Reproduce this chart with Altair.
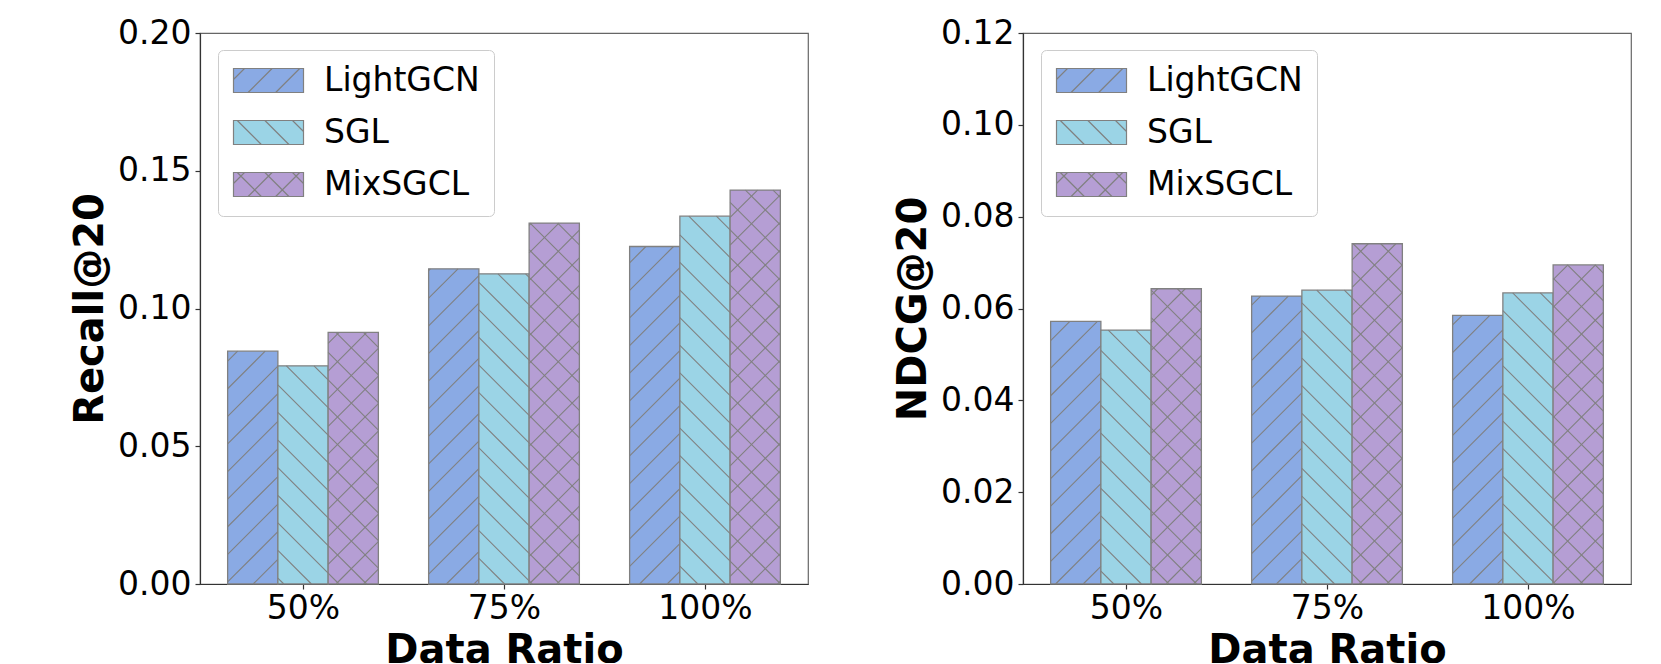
import math
import altair as alt
import pandas as pd

# ---------------- data ----------------
categories = ["50%", "75%", "100%"]
models = ["LightGCN", "SGL", "MixSGCL"]

recall_lightgcn = [0.0845, 0.1144, 0.1225]
recall_sgl = [0.0792, 0.1126, 0.1335]
recall_mixsgcl = [0.0913, 0.1310, 0.1430]

ndcg_lightgcn = [0.0572, 0.0627, 0.0585]
ndcg_sgl = [0.0553, 0.0640, 0.0634]
ndcg_mixsgcl = [0.0643, 0.0741, 0.0695]

recall_ticks = [0.00, 0.05, 0.10, 0.15, 0.20]
ndcg_ticks = [0.00, 0.02, 0.04, 0.06, 0.08, 0.10, 0.12]

# ---------------- style ----------------
colors = ["#8AAAE4", "#9BD4E6", "#B59ED4"]
hatches = ["/", "\\", "x"]
EDGE = "#808080"
FONT = "DejaVu Sans"

PLOT_W, PLOT_H = 608, 551
BAR_W = 0.25
X_MIN, X_MAX = -0.5125, 2.5125
KX = PLOT_W / (X_MAX - X_MIN)
HATCH_S = 27.6
PHASE_FWD, PHASE_BACK = 21.0, 4.0
BASE_Y = 80.0
PANEL_X = [199.0, 1020.0]


def clip_lines(xa, xb, ya, yb, kind, spacing, phase):
    segs = []
    if kind == "/":
        lo, hi = ya - xb, yb - xa
        k = math.floor((lo - phase) / spacing)
        while True:
            c = phase + k * spacing
            if c > hi:
                break
            x1, x2 = max(xa, ya - c), min(xb, yb - c)
            if x2 - x1 > 0.02 * spacing:
                segs.append((x1, x1 + c, x2, x2 + c))
            k += 1
    else:
        lo, hi = ya + xa, yb + xb
        k = math.floor((lo - phase) / spacing)
        while True:
            c = phase + k * spacing
            if c > hi:
                break
            x1, x2 = max(xa, c - yb), min(xb, c - ya)
            if x2 - x1 > 0.02 * spacing:
                segs.append((x1, c - x1, x2, c - x2))
            k += 1
    return segs


def kinds_of(h):
    return ["/", "\\"] if h == "x" else [h]


# legend symbol paths: a 70x24 px hatched handle; the unit is half the handle height
SYM_W, SYM_H = 70.0, 24.0
hw = SYM_W / SYM_H
sym_paths = []
for h in hatches:
    p = f"M{-hw:.3f},-1L{hw:.3f},-1L{hw:.3f},1L{-hw:.3f},1Z"
    for kind in kinds_of(h):
        for (x1, y1, x2, y2) in clip_lines(-hw, hw, -1, 1, kind,
                                            HATCH_S / (SYM_H / 2), 0.7):
            p += f"M{x1:.3f},{-y1:.3f}L{x2:.3f},{-y2:.3f}"
    sym_paths.append(p)

x_label_expr = "[" + ",".join(f"'{c}'" for c in categories) + "][round(datum.value)]"


def panel(series, ticks, y_title, px0):
    y_max = ticks[-1]
    ky = PLOT_H / y_max
    bar_rows, hatch_rows = [], []
    for m_i, (name, vals) in enumerate(zip(models, series)):
        for g_i, v in enumerate(vals):
            x0 = g_i - 1.5 * BAR_W + m_i * BAR_W
            x1 = x0 + BAR_W
            bar_rows.append(dict(model=name, x0=x0, x1=x1, value=v, base=0.0,
                                 fill=colors[m_i]))
            xa = px0 + (x0 - X_MIN) * KX
            xb = px0 + (x1 - X_MIN) * KX
            ya, yb = BASE_Y, BASE_Y + v * ky
            for kind in kinds_of(hatches[m_i]):
                phase = PHASE_FWD if kind == "/" else PHASE_BACK
                for (X1, Y1, X2, Y2) in clip_lines(xa, xb, ya, yb, kind, HATCH_S, phase):
                    hatch_rows.append(dict(
                        hx=X_MIN + (X1 - px0) / KX, hy=(Y1 - BASE_Y) / ky,
                        hx2=X_MIN + (X2 - px0) / KX, hy2=(Y2 - BASE_Y) / ky))
    bars_df = pd.DataFrame(bar_rows)
    hatch_df = pd.DataFrame(hatch_rows)

    xscale = alt.Scale(domain=[X_MIN, X_MAX], nice=False, zero=False)
    yscale = alt.Scale(domain=[0, y_max], nice=False, zero=True)
    xaxis = alt.Axis(values=[0, 1, 2], labelExpr=x_label_expr, title="Data Ratio",
                     labelFontSize=33, titleFontSize=40, titleFontWeight="bold",
                     tickSize=5, labelPadding=3, titlePadding=5, grid=False,
                     labelFlush=False, labelOverlap=False)
    yaxis = alt.Axis(values=ticks, format=".2f", title=y_title,
                     labelFontSize=33, titleFontSize=40, titleFontWeight="bold",
                     tickSize=5, labelPadding=4, titlePadding=7, grid=False,
                     labelFlush=False, labelOverlap=False)

    bars = alt.Chart(bars_df).mark_rect(stroke=EDGE, strokeWidth=1.3).encode(
        x=alt.X("x0:Q", scale=xscale, axis=xaxis),
        x2="x1",
        y=alt.Y("value:Q", scale=yscale, axis=yaxis),
        y2="base",
        fill=alt.Fill("fill:N", scale=None),
    )
    hatch = alt.Chart(hatch_df).mark_rule(color=EDGE, strokeWidth=1.1).encode(
        x="hx:Q", x2="hx2", y="hy:Q", y2="hy2"
    )
    legend = alt.Legend(title=None, orient="none", legendX=18, legendY=17,
                        labelFontSize=33, labelFont=FONT, labelColor="black",
                        symbolSize=SYM_H * SYM_H, symbolStrokeWidth=1.2,
                        symbolOpacity=1, symbolOffset=20, labelOffset=39,
                        padding=14, rowPadding=18,
                        strokeColor="#cccccc", fillColor="white", cornerRadius=5)
    keys = alt.Chart(bars_df).transform_filter("false").mark_point(
        filled=True, size=SYM_H * SYM_H, opacity=1, strokeWidth=1.2
    ).encode(
        x="x0:Q",
        y="value:Q",
        fill=alt.Fill("model:N", scale=alt.Scale(domain=models, range=colors), legend=legend),
        stroke=alt.Stroke("model:N", scale=alt.Scale(domain=models, range=[EDGE] * len(models)),
                          legend=legend),
        shape=alt.Shape("model:N", scale=alt.Scale(domain=models, range=sym_paths), legend=legend),
    )
    return alt.layer(bars, hatch, keys).properties(width=PLOT_W, height=PLOT_H)


left = panel([recall_lightgcn, recall_sgl, recall_mixsgcl], recall_ticks, "Recall@20", PANEL_X[0])
right = panel([ndcg_lightgcn, ndcg_sgl, ndcg_mixsgcl], ndcg_ticks, "NDCG@20", PANEL_X[1])

chart = (
    alt.hconcat(left, right, spacing=83)
    .resolve_scale(fill="independent", stroke="independent", shape="independent")
    .resolve_legend(fill="independent", stroke="independent", shape="independent")
    .properties(padding={"left": 61, "top": 8, "right": 0, "bottom": -8})
    .configure(font=FONT)
    .configure_axis(labelFont=FONT, titleFont=FONT, labelColor="black", titleColor="black",
                    domainColor="#333333", tickColor="#333333", domainWidth=1.2, tickWidth=1.2)
    .configure_view(stroke="#666666", strokeWidth=1.2)
)

chart.save("out.html", embed_options={"renderer": "svg", "actions": False})
